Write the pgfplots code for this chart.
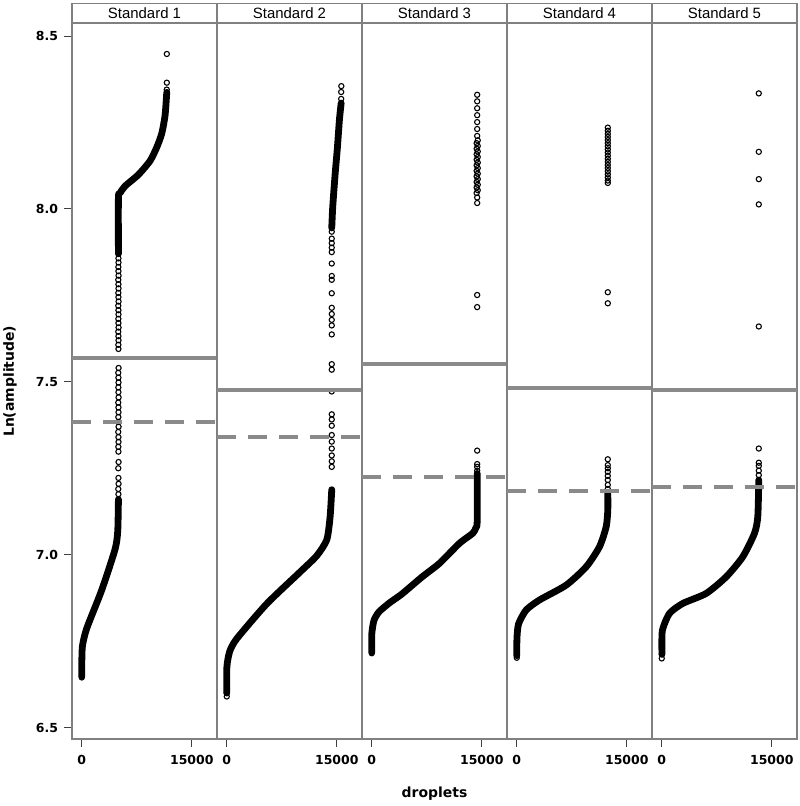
\documentclass[border=0pt]{standalone}
\usepackage{pgfplots}
\pgfplotsset{compat=1.18}
\usepackage{fontspec}
\setmainfont{DejaVu Sans}
\newfontfamily\headfont{Liberation Sans}
\definecolor{bordergray}{RGB}{128,128,128}
\definecolor{linegray}{RGB}{138,138,138}
\tikzset{
  header/.style={draw=bordergray, line width=1.6bp, minimum width=145bp, minimum height=19.8bp,
      inner sep=0pt, outer sep=0pt, anchor=south, font=\headfont\fontsize{15}{17}\selectfont},
}
\pgfplotsset{
  panel/.style={
    scale only axis, width=145bp, height=716bp,
    xmin=-1330, xmax=18440, ymin=6.4662, ymax=8.5367,
    clip mode=individual,
    scaled x ticks=false, scaled y ticks=false,
    xtick={0,15000}, xticklabels={0,15000},
    tick align=outside, tick pos=left, major tick length=7.5bp,
    tick style={black!75, line width=0.8bp},
    tick label style={font=\fontsize{12.5}{14}\selectfont\bfseries},
    xticklabel style={yshift=-5bp},
    yticklabel style={xshift=-3bp},
    axis line style={draw=bordergray, line width=1.6bp},
  },
  dense/.style={black, line width=6.8bp, line cap=round, line join=round, mark=none, smooth, tension=0.4},
  pts/.style={only marks, mark=o, mark size=2.6bp, mark options={black, line width=1.1bp, solid}},
  solidthr/.style={linegray, line width=4bp, mark=none},
  dashthr/.style={linegray, line width=4bp, mark=none, dash pattern=on 19bp off 12bp},
}
\begin{document}
\begin{tikzpicture}
% ---------------- Standard 1 ----------------
\begin{axis}[panel, at={(72bp,66.7bp)}, anchor=south west,
  ytick={6.5,7,7.5,8,8.5}, yticklabels={6.5,7.0,7.5,8.0,8.5},
  ylabel={Ln(amplitude)},
  ylabel style={at={(axis description cs:-0.4276,0.5)}, anchor=center, font=\fontsize{14}{16}\selectfont\bfseries}]
\addplot[dense] coordinates {(0,6.648) (0,6.676) (90,6.735) (681,6.787) (2727,6.898) (4545,7.016) (4908,7.069) (5000,7.16)};
\addplot[pts] coordinates {(0,6.645)
 (5000,7.175) (4980,7.19) (5020,7.205) (5000,7.222) (4980,7.25) (5020,7.268) (5000,7.298) (4990,7.312)
 (5010,7.326) (5000,7.34) (4980,7.355) (5020,7.37) (5000,7.384) (4990,7.398) (5010,7.412) (5000,7.426)
 (4980,7.44) (5020,7.455) (5000,7.47) (4990,7.484) (5010,7.498) (5000,7.512) (4980,7.526) (5020,7.54)
 (5000,7.595) (4990,7.607) (5010,7.62) (5000,7.632) (4980,7.645) (5020,7.657) (5000,7.67) (4990,7.682)
 (5010,7.695) (5000,7.707) (4980,7.72) (5020,7.732) (5000,7.745) (4990,7.757) (5010,7.77) (5000,7.782)
 (4980,7.795) (5020,7.807) (5000,7.82) (4990,7.832) (5010,7.845) (5000,7.857)
 (11590,8.345) (11600,8.365) (11600,8.448)};
\addplot[dense] coordinates {(5000,7.87) (5000,8.033) (5227,8.046) (5908,8.066) (7726,8.099) (9317,8.139) (10226,8.178) (10908,8.218) (11363,8.271) (11590,8.337)};
\addplot[solidthr] coordinates {(-1330,7.570) (18440,7.570)};
\addplot[dashthr] coordinates {(-1330,7.384) (18440,7.384)};
\node[header] at (rel axis cs:0.5,1) {Standard 1};
\end{axis}
% ---------------- Standard 2 ----------------
\begin{axis}[panel, at={(217bp,66.7bp)}, anchor=south west, ytick=\empty]
\addplot[dense] coordinates {(0,6.60) (20,6.676) (400,6.72) (1363,6.757) (5454,6.858) (9999,6.95) (12271,6.997) (13635,7.043) (14089,7.109) (14316,7.188)};
\addplot[pts] coordinates {(0,6.59) (0,6.60)
 (14316,7.254) (14316,7.270) (14316,7.287) (14316,7.307) (14316,7.327) (14316,7.346) (14316,7.373) (14316,7.391)
 (14316,7.406) (14316,7.472) (14316,7.535) (14316,7.551) (14316,7.637) (14316,7.663) (14316,7.679) (14316,7.696)
 (14316,7.714) (14316,7.756) (14316,7.795) (14316,7.806) (14316,7.842) (14316,7.875) (14316,7.888) (14316,7.901)
 (14316,7.914) (14316,7.934)
 (15600,8.318) (15600,8.338) (15620,8.355)};
\addplot[dense] coordinates {(14316,7.945) (14453,8.007) (14771,8.099) (15089,8.178) (15362,8.258) (15600,8.306)};
\addplot[solidthr] coordinates {(-1330,7.476) (18440,7.476)};
\addplot[dashthr] coordinates {(-1330,7.341) (18440,7.341)};
\node[header] at (rel axis cs:0.5,1) {Standard 2};
\end{axis}
% ---------------- Standard 3 ----------------
\begin{axis}[panel, at={(362bp,66.7bp)}, anchor=south west, ytick=\empty,
  xlabel={droplets},
  xlabel style={at={(axis description cs:0.5,-0.0757)}, anchor=center, font=\fontsize{14}{16}\selectfont\bfseries}]
\addplot[dense] coordinates {(0,6.718) (0,6.77) (300,6.81) (1000,6.835) (2500,6.862) (4090,6.886) (6817,6.935) (9230,6.975) (11958,7.033) (13772,7.062) (14200,7.078) (14373,7.095) (14373,7.235)};
\addplot[pts] coordinates {(0,6.715)
 (14373,7.243) (14373,7.254) (14373,7.262) (14373,7.301)
 (14373,7.716) (14373,7.751)
 (14373,8.017) (14373,8.033) (14300,8.046) (14450,8.054) (14300,8.062) (14450,8.070) (14300,8.078) (14450,8.086)
 (14300,8.094) (14450,8.102) (14300,8.110) (14450,8.118) (14300,8.126) (14450,8.134) (14300,8.142) (14450,8.150)
 (14300,8.158) (14450,8.166) (14300,8.174) (14450,8.182) (14300,8.190) (14450,8.198)
 (14373,8.211) (14373,8.231) (14373,8.251) (14373,8.271) (14373,8.291) (14373,8.311) (14373,8.330)};
\addplot[solidthr] coordinates {(-1330,7.551) (18440,7.551)};
\addplot[dashthr] coordinates {(-1330,7.224) (18440,7.224)};
\node[header] at (rel axis cs:0.5,1) {Standard 3};
\end{axis}
% ---------------- Standard 4 ----------------
\begin{axis}[panel, at={(507bp,66.7bp)}, anchor=south west, ytick=\empty]
\addplot[dense] coordinates {(0,6.708) (30,6.76) (250,6.80) (1282,6.840) (3096,6.869) (6737,6.912) (9465,6.965) (11280,7.023) (12195,7.081) (12413,7.129) (12413,7.178)};
\addplot[pts] coordinates {(0,6.702)
 (12413,7.190) (12413,7.202) (12413,7.216) (12413,7.228) (12413,7.240) (12413,7.250) (12413,7.259) (12413,7.276)
 (12413,7.727) (12413,7.759)
 (12413,8.075) (12413,8.082) (12413,8.091) (12413,8.100) (12413,8.109) (12413,8.118) (12413,8.127) (12413,8.136)
 (12413,8.145) (12413,8.154) (12413,8.163) (12413,8.172) (12413,8.181) (12413,8.190) (12413,8.199) (12413,8.208)
 (12413,8.217) (12413,8.226) (12413,8.235)};
\addplot[solidthr] coordinates {(-1330,7.483) (18440,7.483)};
\addplot[dashthr] coordinates {(-1330,7.185) (18440,7.185)};
\node[header] at (rel axis cs:0.5,1) {Standard 4};
\end{axis}
% ---------------- Standard 5 ----------------
\begin{axis}[panel, at={(652bp,66.7bp)}, anchor=south west, ytick=\empty]
\addplot[dense] coordinates {(30,6.712) (80,6.78) (1050,6.830) (2864,6.859) (6056,6.888) (8784,6.936) (11048,6.994) (12644,7.062) (13094,7.110) (13231,7.216)};
\addplot[pts] coordinates {(0,6.700) (0,6.712)
 (13231,7.230) (13231,7.243) (13231,7.257) (13231,7.266) (13231,7.307)
 (13231,7.660) (13231,8.013) (13231,8.086) (13231,8.165) (13231,8.334)};
\addplot[solidthr] coordinates {(-1330,7.475) (18440,7.475)};
\addplot[dashthr] coordinates {(-1330,7.197) (18440,7.197)};
\node[header] at (rel axis cs:0.5,1) {Standard 5};
\end{axis}
\pgfresetboundingbox
\path[use as bounding box] (0,0) rectangle (800bp,806bp);
\end{tikzpicture}
\end{document}
